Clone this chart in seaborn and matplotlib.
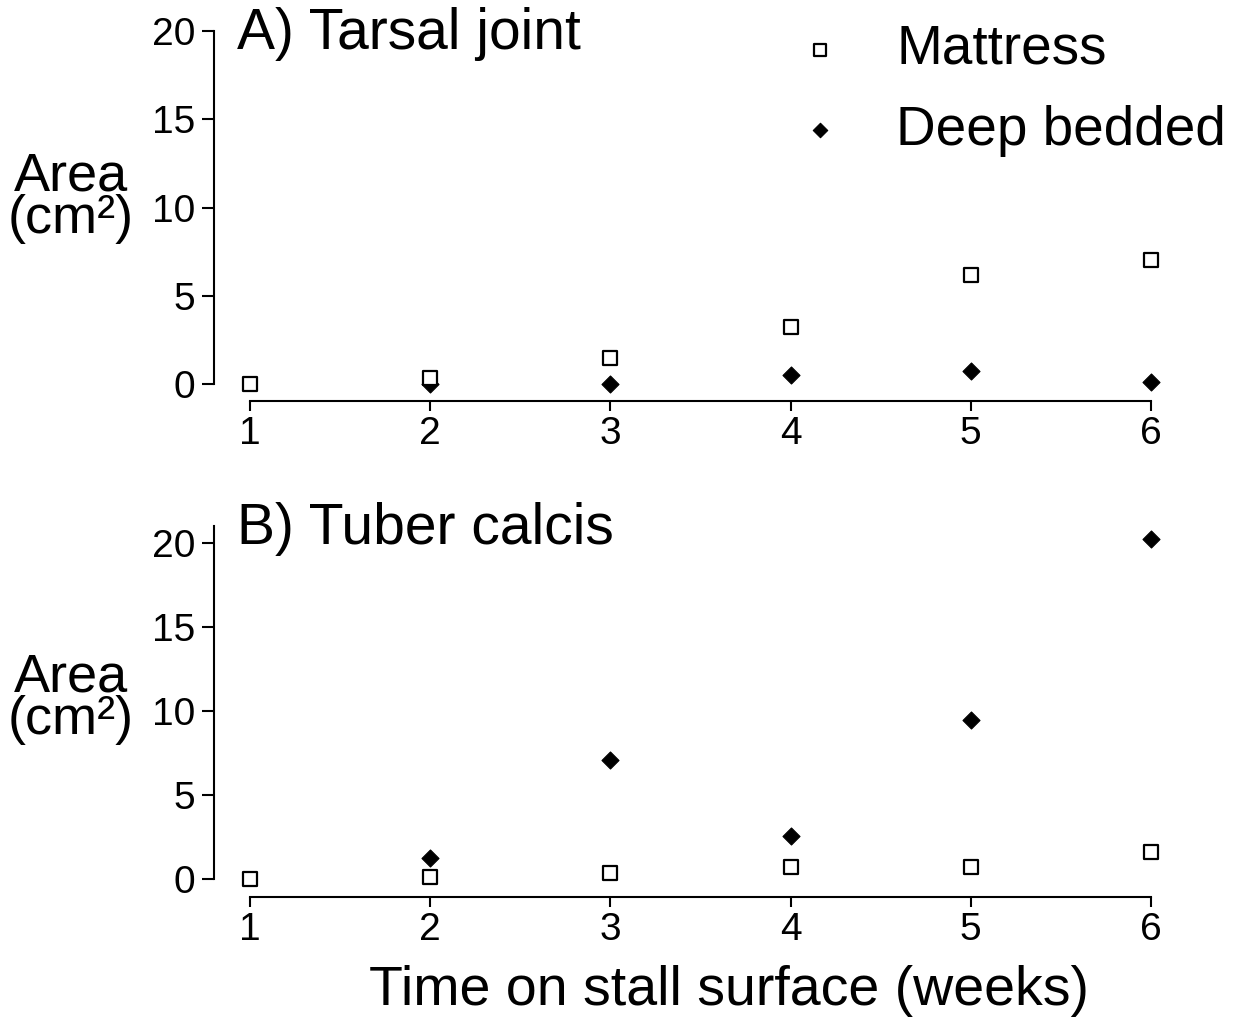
import numpy as np
import pandas as pd
import seaborn as sns
import matplotlib
matplotlib.use("Agg")
import matplotlib.pyplot as plt

# weeks on stall surface
weeks = [1, 2, 3, 4, 5, 6]

# lesion area (cm2), panel A: tarsal joint
tarsal_mattress = [0.0, 0.35, 1.45, 3.25, 6.15, 7.0]
tarsal_deep = [np.nan, 0.0, 0.0, 0.5, 0.75, 0.12]

# panel B: tuber calcis
tuber_mattress = [0.0, 0.12, 0.35, 0.72, 0.72, 1.6]
tuber_deep = [np.nan, 1.25, 7.1, 2.55, 9.45, 20.2]

groups = ["Mattress", "Deep bedded"]
panel_titles = ["A) Tarsal joint", "B) Tuber calcis"]
y_ticks = [0, 5, 10, 15, 20]

sns.set_style("ticks", rc={"text.color": "black", "axes.labelcolor": "black",
                           "xtick.color": "black", "ytick.color": "black",
                           "axes.edgecolor": "black"})
plt.rcParams["font.family"] = ["Liberation Sans", "DejaVu Sans"]

LW = 1.5


def draw_panel(ax, mattress, deep, title, ylim, label_y):
    df_m = pd.DataFrame({"week": weeks, "area": mattress})
    df_d = pd.DataFrame({"week": weeks, "area": deep}).dropna()
    sns.scatterplot(data=df_d, x="week", y="area", ax=ax, marker="D", s=75,
                    color="black", edgecolor="black", linewidth=0.8,
                    label=groups[1], zorder=3, clip_on=False)
    sns.scatterplot(data=df_m, x="week", y="area", ax=ax, marker="s", s=105,
                    facecolor="white", edgecolor="black", linewidth=1.6,
                    label=groups[0], zorder=4, clip_on=False)
    ax.set_xlim(0.8, 6.2)
    ax.set_ylim(*ylim)
    ax.set_xticks(weeks)
    ax.set_yticks(y_ticks)
    ax.set_xlabel("")
    ax.set_ylabel("Area\n(cm²)", rotation=0, fontsize=39, ha="center",
                  va="center", linespacing=0.8)
    ax.yaxis.set_label_coords(-0.147, label_y)
    for side in ["top", "right"]:
        ax.spines[side].set_visible(False)
    ax.spines["left"].set_bounds(0, ylim[1])
    ax.spines["bottom"].set_bounds(1, 6)
    for side in ["left", "bottom"]:
        ax.spines[side].set_linewidth(LW)
    ax.tick_params(axis="both", direction="out", width=LW, labelsize=28)
    ax.tick_params(axis="y", length=8.5, pad=5)
    ax.tick_params(axis="x", length=7, pad=4)
    ax.text(0.024, 0.952, title, transform=ax.transAxes, fontsize=41,
            ha="left", va="baseline")


fig = plt.figure(figsize=(12.34, 10.17), dpi=100)
ax_a = fig.add_axes([214 / 1234, 1 - 401 / 1017, 973 / 1234, 370 / 1017])
ax_b = fig.add_axes([214 / 1234, 1 - 897 / 1017, 973 / 1234, 371 / 1017])

draw_panel(ax_a, tarsal_mattress, tarsal_deep, panel_titles[0], (-0.96, 20), 0.55)
draw_panel(ax_b, tuber_mattress, tuber_deep, panel_titles[1], (-1.07, 21), 0.535)

# legend only on panel A, mattress first
handles, labels = ax_a.get_legend_handles_labels()
order = [labels.index(g) for g in groups]
ax_a.legend([handles[i] for i in order], [labels[i] for i in order],
            loc="upper left", bbox_to_anchor=(793 / 1234, 1 - 24 / 1017),
            bbox_transform=fig.transFigure, frameon=False, fontsize=39.5,
            handlelength=1.0, handletextpad=0.88, labelspacing=0.52,
            borderpad=0, borderaxespad=0, markerscale=0.85)
ax_b.get_legend().remove()

fig.text(729 / 1234, 1 - 1005 / 1017, "Time on stall surface (weeks)",
         fontsize=40, ha="center", va="baseline")

fig.savefig("out.png", dpi=100)
